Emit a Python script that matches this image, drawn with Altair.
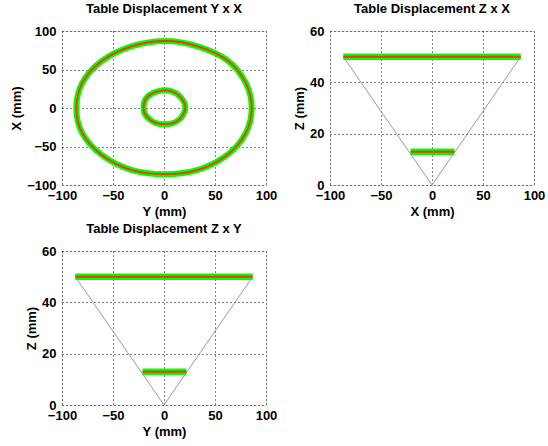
import altair as alt
import pandas as pd

# ---- data ----
outer_y = [86, 80, 62, 33, 2, -32, -61, -80, -86, -80, -61, -33, 1, 34, 62, 80]
outer_x = [0, 33, 62, 80, 87, 80, 61, 33, 0, -33, -61, -80, -86, -80, -61, -33]
inner_y = [21, 19, 14, 7, 0, -8, -15, -19, -20, -19, -14, -7, 0, 8, 15, 19]
inner_x = [1, 9, 17, 22, 23, 21, 16, 9, 1, -7, -15, -20, -21, -20, -15, -8]

upper_h = [-87, 87]
upper_z = [50, 50]
lower_h = [-21, 22]
lower_z = [13, 13]
v_h = [-87, 0, 87]
v_z = [50, 0, 50]

hv_ticks = [-100, -50, 0, 50, 100]
z_ticks = [0, 20, 40, 60]

FONT = "Liberation Sans"
GREEN = "#00ff00"
RED = "#ff3300"
GRAY = "#9a9a9a"

rings = pd.DataFrame(
    [{"h": a, "v": b, "ring": "outer", "k": i} for i, (a, b) in enumerate(zip(outer_y, outer_x))]
    + [{"h": a, "v": b, "ring": "inner", "k": i} for i, (a, b) in enumerate(zip(inner_y, inner_x))]
)
segs = pd.DataFrame(
    [{"h": a, "v": b, "seg": "upper"} for a, b in zip(upper_h, upper_z)]
    + [{"h": a, "v": b, "seg": "lower"} for a, b in zip(lower_h, lower_z)]
)
vdf = pd.DataFrame({"h": v_h, "v": v_z, "k": list(range(len(v_h)))})


def axis(values, title, pad):
    return alt.Axis(
        values=values, title=title, grid=True, gridColor="black", gridDash=[1, 3],
        gridOpacity=1, gridWidth=1, domain=False, ticks=False,
        labelFont=FONT, labelFontWeight="bold", labelFontSize=13, labelColor="black",
        titleFont=FONT, titleFontWeight="bold", titleFontSize=13, titleColor="black",
        labelFlush=False, labelOverlap=False, labelPadding=pad, titlePadding=3,
    )


def enc(xtitle, ytitle, ydom, yticks):
    return dict(
        x=alt.X("h:Q", scale=alt.Scale(domain=[-100, 100], nice=False, zero=False),
                axis=axis(hv_ticks, xtitle, 4)),
        y=alt.Y("v:Q", scale=alt.Scale(domain=ydom, nice=False, zero=False),
                axis=axis(yticks, ytitle, 6)),
    )


def title(t):
    return alt.TitleParams(t, font=FONT, fontSize=13, fontWeight="bold", color="black",
                           offset=9, anchor="middle")


W, H = 204, 154

e1 = enc("Y (mm)", "X (mm)", [-100, 100], hv_ticks)
ring_base = alt.Chart(rings)
p1 = alt.layer(
    ring_base.mark_line(color=GREEN, strokeWidth=6, interpolate="cardinal-closed").encode(
        order="k:Q", detail="ring:N", **e1),
    ring_base.mark_line(color=RED, strokeWidth=1.8, interpolate="cardinal-closed").encode(
        order="k:Q", detail="ring:N", **e1),
).properties(width=W, height=H, title=title("Table Displacement Y x X"))


def zpanel(xtitle, t):
    e = enc(xtitle, "Z (mm)", [0, 60], z_ticks)
    return alt.layer(
        alt.Chart(vdf).mark_line(color=GRAY, strokeWidth=1).encode(order="k:Q", **e),
        alt.Chart(segs).mark_line(color=GREEN, strokeWidth=6.5).encode(detail="seg:N", **e),
        alt.Chart(segs).mark_line(color=RED, strokeWidth=2).encode(detail="seg:N", **e),
    ).properties(width=W, height=H, title=title(t))


p2 = zpanel("X (mm)", "Table Displacement Z x X")
p3 = zpanel("Y (mm)", "Table Displacement Z x Y")

chart = alt.concat(p1, p2, p3, columns=2, spacing={"row": 66, "column": 64}, bounds="flush").properties(
    padding={"left": 10, "top": 2, "right": 0, "bottom": 0}
).configure_view(stroke="black", strokeWidth=2).configure(background="white")

chart.save("out.html", embed_options={"renderer": "svg", "actions": False})
